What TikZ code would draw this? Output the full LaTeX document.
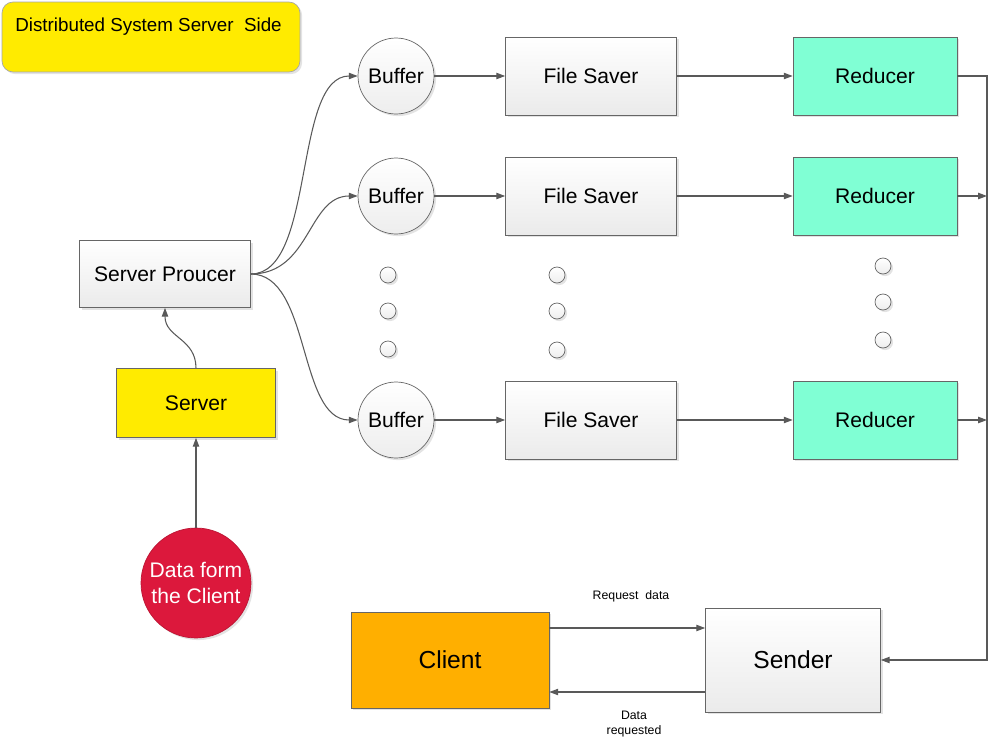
\documentclass[tikz,border=0pt]{standalone}
\usepackage{fontspec}
\setmainfont{Liberation Sans}
\usetikzlibrary{arrows.meta,shadows}
\definecolor{LN}{HTML}{595959}
\definecolor{BD}{HTML}{666666}
\definecolor{YL}{HTML}{FFEB00}
\definecolor{AQ}{HTML}{80FFD4}
\definecolor{OR}{HTML}{FFAF00}
\definecolor{CR}{HTML}{DC183C}
\tikzset{
    >={Triangle[length=5pt,width=3.6pt]},
    SH/.style ={drop shadow={shadow xshift=1.2pt,shadow yshift=-1.2pt,opacity=0.22}},
    F12/.style ={font=\fontsize{12}{14.5}\selectfont},
    RA1/.style ={rectangle,minimum width=3.42cm,minimum height=1.56cm,draw=BD,top color=white,bottom color=gray!16,SH,F12},
    RA2/.style ={rectangle,minimum width=3.28cm,minimum height=1.56cm,draw=BD,fill=AQ,SH,F12},
    RA3/.style ={rectangle,draw=BD,SH,F12},
    CC1/.style ={circle,minimum size=1.52cm,inner sep=0pt,draw=BD,top color=white,bottom color=gray!14,SH,F12},
    CC2/.style ={circle,minimum size=0.32cm,inner sep=0pt,draw=BD,top color=white,bottom color=gray!14,SH},
    LN/.style ={draw=LN,line width=0.6pt},
    SU/.style ={font=\fontsize{7}{8.5}\selectfont,align=center}}
\begin{document}
\begin{tikzpicture}[x=0.02cm,y=0.02cm]
        \useasboundingbox (0,0) rectangle (998,-744);
        % title
        \node[rectangle,rounded corners=0.22cm,minimum width=5.96cm,minimum height=1.4cm,draw=gray!70,fill=YL,SH,
              label={[anchor=north,yshift=-0.2cm,xshift=-0.05cm,font=\fontsize{10.7}{12}\selectfont]north:Distributed System Server~ Side}] (T) at (151,-37) {};
        % left column
        \node[RA3,minimum width=3.42cm,minimum height=1.34cm,top color=white,bottom color=gray!16] (SP) at (165,-274) {Server Proucer};
        \node[RA3,minimum width=3.18cm,minimum height=1.38cm,fill=YL] (SV) at (196,-403) {Server};
        \node[circle,minimum size=2.2cm,inner sep=0pt,draw=CR!85!black,fill=CR,text=white,align=center,SH,F12] (DC) at (196,-583) {Data form\\the Client};
        % buffers
        \node[CC1] (B1) at (396,-76) {Buffer};
        \node[CC1] (B2) at (396,-196) {Buffer};
        \node[CC1] (B3) at (396,-420) {Buffer};
        % file savers
        \node[RA1] (F1) at (591,-76) {File Saver};
        \node[RA1] (F2) at (591,-196) {File Saver};
        \node[RA1] (F3) at (591,-420) {File Saver};
        % reducers
        \node[RA2] (R1) at (875,-76) {Reducer};
        \node[RA2] (R2) at (875,-196) {Reducer};
        \node[RA2] (R3) at (875,-420) {Reducer};
        % dots
        \node[CC2] (d11) at (388,-275) {};
        \node[CC2] (d12) at (388,-311) {};
        \node[CC2] (d13) at (388,-349) {};
        \node[CC2] (d21) at (557,-275) {};
        \node[CC2] (d22) at (557,-311) {};
        \node[CC2] (d23) at (557,-350) {};
        \node[CC2] (d31) at (883,-266) {};
        \node[CC2] (d32) at (883,-302) {};
        \node[CC2] (d33) at (883,-340) {};
        % client side
        \node[RA3,minimum width=3.96cm,minimum height=1.92cm,fill=OR,font=\fontsize{14}{16}\selectfont] (CL) at (450,-660) {Client};
        \node[RA3,minimum width=3.5cm,minimum height=2.08cm,top color=white,bottom color=gray!16,font=\fontsize{14}{16}\selectfont] (SD) at (793,-660) {Sender};
        \node[SU] (LB1) at (631,-596) {Request~ data};
        \node[SU] (LB2) at (634,-724) {Data\\requested};
        \coordinate (C1) at (987,-76);
        % connectors
        \draw[LN,->] (DC) -- (SV);
        \draw[LN,->] (SV.north) .. controls +(0,30) and +(0,-30) .. (SP.south);
        \draw[LN,->] (SP.east) .. controls +(65,0) and +(-65,0) .. (B1.west);
        \draw[LN,->] (SP.east) .. controls +(60,0) and +(-50,0) .. (B2.west);
        \draw[LN,->] (SP.east) .. controls +(60,0) and +(-60,0) .. (B3.west);
        \draw[LN,->] (B1) -- (F1);
        \draw[LN,->] (B2) -- (F2);
        \draw[LN,->] (B3) -- (F3);
        \draw[LN,->] (F1) -- (R1);
        \draw[LN,->] (F2) -- (R2);
        \draw[LN,->] (F3) -- (R3);
        \draw[LN,->] (R1.east) -- (C1) |- (SD.east);
        \draw[LN,->] (R2.east) -- (R2.east -| C1);
        \draw[LN,->] (R3.east) -- (R3.east -| C1);
        \draw[LN,->] (CL.east |- 0,-628) -- (SD.west |- 0,-628);
        \draw[LN,->] (SD.west |- 0,-692) -- (CL.east |- 0,-692);
    \end{tikzpicture}
\end{document}
